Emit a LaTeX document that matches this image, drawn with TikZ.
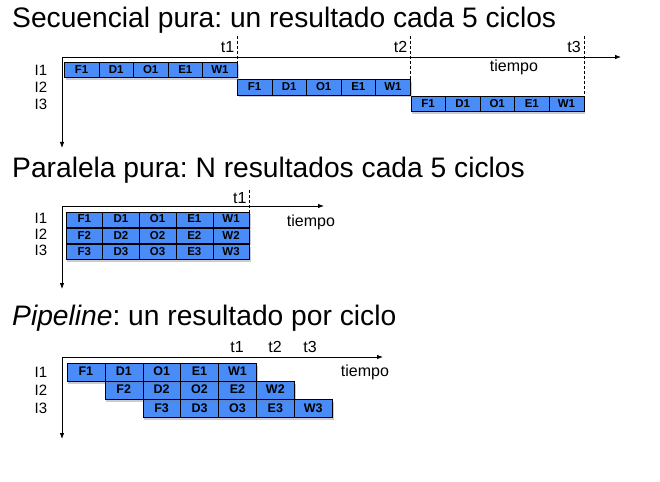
\documentclass[tikz,border=0pt]{standalone}
\usepackage{fontspec}
\setmainfont{Liberation Sans}
\usetikzlibrary{arrows.meta,shadows}
\definecolor{cellblue}{RGB}{74,140,247}
\frenchspacing
\tikzset{
  cell/.style={draw, fill=cellblue, inner sep=0pt, anchor=west,
    text height=0.74em, text depth=0pt,
    font=\bfseries\fontsize{11.5}{11.5}\selectfont,
    drop shadow={shadow xshift=1.5pt,shadow yshift=-2.5pt,opacity=0.4}},
  bigcell/.style={cell, font=\bfseries\fontsize{12.5}{12.5}\selectfont},
  axis/.style={line width=0.8pt,-{Latex[length=6pt,width=4.5pt]}},
  title/.style={anchor=west, inner sep=0pt, font=\fontsize{28.2}{32}\selectfont},
  lab/.style={inner sep=0pt, font=\fontsize{15}{17}\selectfont},
  tlab/.style={inner sep=0pt, font=\fontsize{16}{18}\selectfont},
  tick/.style={dashed, dash pattern=on 3pt off 2pt, line width=0.6pt}
}
\begin{document}
\begin{tikzpicture}[x=1pt,y=-1pt]
\useasboundingbox (0,0) rectangle (660,481);
% secuencial pura
\node[title] (tit1) at (12,20) {Secuencial pura: un resultado cada 5 ciclos};
\coordinate (o1) at (62,57);
\coordinate (x1) at (621,57);
\coordinate (y1) at (62,148);
\draw[axis] (o1) -- (x1);
\draw[axis] (o1) -- (y1);
\foreach \st [count=\i from 0] in {F1,D1,O1,E1,W1} {
  \node[cell, minimum width=34.6pt, minimum height=15.4pt] (a1\st) at (64+34.6*\i,70) {\st};
  \node[cell, minimum width=34.6pt, minimum height=15.4pt] (a2\st) at (237+34.6*\i,87.2) {\st};
  \node[cell, minimum width=34.6pt, minimum height=15.4pt] (a3\st) at (410.5+34.6*\i,103.8) {\st};
}
\coordinate (t1a) at (a1W1.north east |- 0,36);
\coordinate (t2a) at (a2W1.north east |- 0,36);
\coordinate (t3a) at (a3W1.north east |- 0,36);
\draw[tick] (t1a) -- (a1W1.south east);
\draw[tick] (t2a) -- (a2W1.north east);
\draw[tick] (t3a) -- (a3W1.north east);
\node[tlab, anchor=east] (lt1) at ([xshift=-3pt,yshift=-11pt]t1a) {t1};
\node[tlab, anchor=east] (lt2) at ([xshift=-3pt,yshift=-11pt]t2a) {t2};
\node[tlab, anchor=east] (lt3) at ([xshift=-3pt,yshift=-11pt]t3a) {t3};
\node[tlab] (tp1) at (514,67) {tiempo};
\node[lab] (i11) at (41,70) {I1};
\node[lab] (i12) at (41,87) {I2};
\node[lab] (i13) at (41,104) {I3};
% paralela pura
\node[title] (tit2) at (12,170) {Paralela pura: N resultados cada 5 ciclos};
\coordinate (o2) at (62,206);
\coordinate (x2) at (324,206);
\coordinate (y2) at (62,289);
\draw[axis] (o2) -- (x2);
\draw[axis] (o2) -- (y2);
\foreach \st [count=\i from 0] in {F,D,O,E,W} {
  \node[cell, minimum width=36.7pt, minimum height=15pt] (b1\st) at (65.7+36.7*\i,219.2) {\st1};
  \node[cell, minimum width=36.7pt, minimum height=15pt] (b2\st) at (65.7+36.7*\i,235.4) {\st2};
  \node[cell, minimum width=36.7pt, minimum height=15pt] (b3\st) at (65.7+36.7*\i,251.6) {\st3};
}
\coordinate (t4a) at (b1W.north east |- 0,190);
\draw[tick] (t4a) -- (b1W.north east);
\node[tlab, anchor=east] (lt4) at ([xshift=-3pt,yshift=-8pt]t4a) {t1};
\node[tlab] (tp2) at (311,222) {tiempo};
\node[lab] (i21) at (41,218) {I1};
\node[lab] (i22) at (41,234) {I2};
\node[lab] (i23) at (41,250) {I3};
% pipeline
\node[title] (tit3) at (12,318) {\textit{Pipeline}: un resultado por ciclo};
\coordinate (o3) at (62,357);
\coordinate (x3) at (383,357);
\coordinate (y3) at (62,439);
\draw[axis] (o3) -- (x3);
\draw[axis] (o3) -- (y3);
\foreach \st [count=\i from 0] in {F,D,O,E,W} {
  \node[bigcell, minimum width=37.9pt, minimum height=18pt] (c1\st) at (66.7+37.9*\i,372.2) {\st1};
  \node[bigcell, minimum width=37.9pt, minimum height=18pt] (c2\st) at (104.6+37.9*\i,390) {\st2};
  \node[bigcell, minimum width=37.9pt, minimum height=18pt] (c3\st) at (142.5+37.9*\i,408.3) {\st3};
}
\node[tlab] (lt5) at (237,347) {t1};
\node[tlab] (lt6) at (275,347) {t2};
\node[tlab] (lt7) at (310,347) {t3};
\node[tlab] (tp3) at (365,372) {tiempo};
\node[lab] (i31) at (41,372) {I1};
\node[lab] (i32) at (41,390) {I2};
\node[lab] (i33) at (41,408) {I3};
\end{tikzpicture}
\end{document}
